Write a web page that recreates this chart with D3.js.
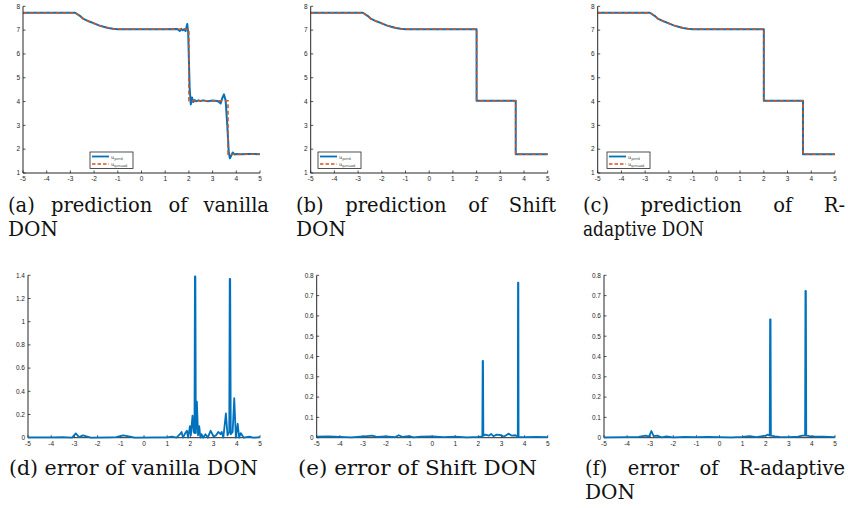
<!DOCTYPE html>
<html><head><meta charset="utf-8">
<script src="https://cdn.jsdelivr.net/npm/d3@7"></script>
<style>html,body{margin:0;padding:0;background:#fff;}svg{display:block;}
.cap{font-family:"DejaVu Serif",serif;}</style>
</head><body>
<svg id="chart" width="848" height="508"></svg>
<script>
// ---------- DATA ----------
const xTicks = [-5,-4,-3,-2,-1,0,1,2,3,4,5];
const xTickLabels = ["-5","-4","-3","-2","-1","0","1","2","3","4","5"];
const yTicksTop = [1,2,3,4,5,6,7,8];
const yTickLabelsTop = ["1","2","3","4","5","6","7","8"];
const yTicksErrVanilla = [0,0.2,0.4,0.6,0.8,1,1.2,1.4];
const yTickLabelsErrVanilla = ["0","0.2","0.4","0.6","0.8","1","1.2","1.4"];
const yTicksErrSmall = [0,0.1,0.2,0.3,0.4,0.5,0.6,0.7,0.8];
const yTickLabelsErrSmall = ["0","0.1","0.2","0.3","0.4","0.5","0.6","0.7","0.8"];

// ground truth (vertices of the exact solution)
const groundX = [-5,-2.8,-2.6,-2.45,-2.2,-2.0,-1.8,-1.6,-1.4,-1.2,-1.0,2.0,2.0,3.65,3.65,5];
const groundY = [7.73,7.73,7.6,7.47,7.36,7.28,7.2,7.14,7.09,7.06,7.04,7.04,4.03,4.03,1.79,1.79];

// vanilla DON prediction
const predVanillaX = [-5,-2.8,-2.6,-2.45,-2.2,-2.0,-1.8,-1.6,-1.4,-1.2,-1.0,1.0,1.5,1.55,1.62,1.68,1.74,1.8,1.86,1.93,1.97,2.03,2.08,2.13,2.18,2.24,2.3,2.4,2.5,2.6,2.8,3.0,3.2,3.28,3.34,3.41,3.48,3.55,3.62,3.68,3.73,3.8,3.85,3.92,4.0,4.2,4.5,5];
const predVanillaY = [7.73,7.73,7.6,7.47,7.36,7.28,7.2,7.14,7.09,7.06,7.04,7.04,7.05,7.02,6.97,7.05,6.99,7.04,6.96,7.26,6.9,4.6,3.88,4.17,3.98,4.06,4.01,4.05,4.02,4.05,4.01,4.04,4.02,3.98,3.92,4.15,4.3,4.05,3.0,1.9,1.62,1.75,1.86,1.78,1.8,1.79,1.8,1.79];

// Shift DON & R-adaptive DON predictions (coincide with ground truth at this scale)
const predShiftX = groundX.slice();
const predShiftY = groundY.slice();
const predRadX = groundX.slice();
const predRadY = groundY.slice();

// absolute errors
const errVanillaX = [-5,-4,-3.5,-3.1,-2.94,-2.8,-2.63,-2.45,-2.3,-1.5,-1.2,-0.9,-0.6,-0.4,0.5,1.0,1.2,1.4,1.55,1.62,1.68,1.78,1.85,1.9,1.98,2.02,2.09,2.14,2.175,2.195,2.215,2.235,2.28,2.33,2.38,2.43,2.48,2.55,2.65,2.75,2.87,3.0,3.1,3.2,3.3,3.35,3.42,3.53,3.6,3.675,3.695,3.715,3.74,3.82,3.89,3.96,4.04,4.1,4.17,4.3,4.54,4.7,5];
const errVanillaY = [0.002,0.003,0.005,0.0,0.037,0.005,0.02,0.01,0.0,0.003,0.005,0.02,0.01,0.0,0.002,0.003,0.01,0.0,0.03,0.05,0.0,0.04,0.06,0.0,0.1,0.02,0.19,0.05,0.04,1.39,1.39,0.04,0.31,0.02,0.1,0.0,0.03,0.0,0.03,0.0,0.06,0.01,0.02,0.05,0.03,0.05,0.0,0.21,0.02,0.05,1.37,1.37,0.03,0.05,0.34,0.0,0.12,0.0,0.04,0.0,0.01,0.0,0.005];

const errShiftX = [-5,-4.5,-4,-3.5,-3,-2.8,-2.6,-2.4,-2,-1.6,-1.45,-1.3,-1,-0.8,-0.5,0,0.5,1,1.5,2.0,2.17,2.185,2.2,2.215,2.3,2.45,2.55,2.65,2.8,3.0,3.1,3.3,3.45,3.6,3.705,3.715,3.73,3.74,4,4.5,5];
const errShiftY = [0.005,0.006,0.004,0.002,0.006,0.008,0.01,0.004,0.006,0.003,0.012,0.004,0.008,0.002,0.005,0.006,0.003,0.005,0.002,0.004,0.006,0.378,0.378,0.01,0.015,0.01,0.018,0.008,0.015,0.012,0.005,0.02,0.01,0.012,0.005,0.764,0.764,0.004,0.003,0.004,0.003];

const errRadX = [-5,-4,-3.5,-3.2,-3.05,-2.95,-2.85,-2.7,-2.5,-2.3,-2,-1.5,-1,-0.5,0,0.5,1.0,1.3,1.6,2.0,2.1,2.175,2.19,2.21,2.225,2.4,2.6,3.0,3.4,3.6,3.705,3.72,3.74,3.755,3.9,4.1,4.5,5];
const errRadY = [0.002,0.003,0.004,0.01,0.005,0.033,0.008,0.01,0.002,0.006,0.002,0.004,0.003,0.004,0.003,0.002,0.004,0.008,0.003,0.01,0.015,0.01,0.583,0.583,0.01,0.006,0.004,0.003,0.005,0.01,0.01,0.723,0.723,0.01,0.008,0.006,0.005,0.003];

// ---------- DRAWING ----------
const svg = d3.select("#chart");
const BLUE = "#0072BD", ORANGE = "#D95319", AXIS = "#262626";
const zip = (xs, ys) => xs.map((x, i) => [x, ys[i]]);

function drawAxes(g, x, y, yTicks, yLabels) {
  const [x0, x1] = x.range(), [y0, y1] = y.range();
  const ax = g.append("g");
  ax.append("line").attr("x1", x0).attr("x2", x0).attr("y1", y0).attr("y2", y1)
    .attr("stroke", AXIS).attr("stroke-width", 1);
  ax.append("line").attr("x1", x0).attr("x2", x1).attr("y1", y0).attr("y2", y0)
    .attr("stroke", AXIS).attr("stroke-width", 1);
  xTicks.forEach((t, i) => {
    ax.append("line").attr("x1", x(t)).attr("x2", x(t)).attr("y1", y0).attr("y2", y0 - 2.5)
      .attr("stroke", AXIS).attr("stroke-width", 0.8);
    ax.append("text").attr("x", x(t)).attr("y", y0 + 8).attr("text-anchor", "middle")
      .attr("font-family", "Liberation Sans, Arial, sans-serif").attr("font-size", 6.5)
      .attr("fill", AXIS).text(xTickLabels[i]);
  });
  yTicks.forEach((t, i) => {
    ax.append("line").attr("x1", x0).attr("x2", x0 + 2.5).attr("y1", y(t)).attr("y2", y(t))
      .attr("stroke", AXIS).attr("stroke-width", 0.8);
    ax.append("text").attr("x", x0 - 3).attr("y", y(t) + 2.3).attr("text-anchor", "end")
      .attr("font-family", "Liberation Sans, Arial, sans-serif").attr("font-size", 6.5)
      .attr("fill", AXIS).text(yLabels[i]);
  });
}

function predPanel(left, right, top, bottom, pX, pY, legX) {
  const x = d3.scaleLinear().domain([-5, 5]).range([left, right]);
  const y = d3.scaleLinear().domain([1, 8]).range([bottom, top]);
  const g = svg.append("g");
  const line = d3.line().x(d => x(d[0])).y(d => y(d[1]));
  g.append("path").attr("d", line(zip(pX, pY))).attr("fill", "none")
    .attr("stroke", BLUE).attr("stroke-width", 2).attr("stroke-linejoin", "round");
  g.append("path").attr("d", line(zip(groundX, groundY))).attr("fill", "none")
    .attr("stroke", ORANGE).attr("stroke-width", 1.5).attr("stroke-dasharray", "4,2.6");
  drawAxes(g, x, y, yTicksTop, yTickLabelsTop);
  // legend
  const lg = g.append("g").attr("transform", `translate(${legX},152)`);
  lg.append("rect").attr("width", 43).attr("height", 16.5).attr("fill", "#fff")
    .attr("stroke", AXIS).attr("stroke-width", 0.8);
  lg.append("line").attr("x1", 2).attr("x2", 19).attr("y1", 4.5).attr("y2", 4.5)
    .attr("stroke", BLUE).attr("stroke-width", 1.8);
  lg.append("line").attr("x1", 2).attr("x2", 19).attr("y1", 12).attr("y2", 12)
    .attr("stroke", ORANGE).attr("stroke-width", 1.5).attr("stroke-dasharray", "3.5,2");
  const items = [["u", "pred", 6.5], ["u", "ground", 14]];
  items.forEach(([b, s, yy]) => {
    const t = lg.append("text").attr("x", 21).attr("y", yy).attr("class", "cap")
      .attr("font-size", 5).attr("fill", "#333");
    t.append("tspan").text(b);
    t.append("tspan").attr("font-size", 3.6).attr("dy", 1).text(s);
  });
}

function errPanel(left, right, top, bottom, ymax, eX, eY, yT, yL) {
  const x = d3.scaleLinear().domain([-5, 5]).range([left, right]);
  const y = d3.scaleLinear().domain([0, ymax]).range([bottom, top]);
  const g = svg.append("g");
  const line = d3.line().x(d => x(d[0])).y(d => y(d[1]));
  drawAxes(g, x, y, yT, yL);
  g.append("path").attr("d", line(zip(eX, eY))).attr("fill", "none")
    .attr("stroke", BLUE).attr("stroke-width", 1.8).attr("stroke-linejoin", "round");
}

predPanel(23, 260, 6.3, 173, predVanillaX, predVanillaY, 90);
predPanel(310.7, 547.7, 6.3, 173, predShiftX, predShiftY, 318);
predPanel(597.7, 835, 6.3, 173, predRadX, predRadY, 607);

errPanel(28, 260, 275.3, 437.7, 1.4, errVanillaX, errVanillaY, yTicksErrVanilla, yTickLabelsErrVanilla);
errPanel(316.7, 547.7, 275.3, 437.7, 0.8, errShiftX, errShiftY, yTicksErrSmall, yTickLabelsErrSmall);
errPanel(604, 835, 275.3, 437.7, 0.8, errRadX, errRadY, yTicksErrSmall, yTickLabelsErrSmall);

// ---------- CAPTIONS ----------
const CAPSIZE = 19.5;
const STRETCH = 1.0;
function capText(x, y, str) {
  return svg.append("text").attr("class", "cap").attr("x", x).attr("y", y)
    .attr("font-size", CAPSIZE).attr("fill", "#111").text(str);
}
function justified(x0, x1, y, words) {
  const nodes = words.map(w => capText(0, y, w));
  const widths = nodes.map(n => n.node().getComputedTextLength() * STRETCH);
  nodes.forEach((n, i) => n.attr("textLength", widths[i]).attr("lengthAdjust", "spacingAndGlyphs"));
  const total = widths.reduce((a, b) => a + b, 0);
  const gap = (x1 - x0 - total) / (words.length - 1);
  let cx = x0;
  nodes.forEach((n, i) => { n.attr("x", cx); cx += widths[i] + gap; });
}
function natural(x0, x1, y, str) {
  capText(x0, y, str).attr("textLength", x1 - x0).attr("lengthAdjust", "spacingAndGlyphs");
}
justified(8, 269, 212, ["(a)", "prediction", "of", "vanilla"]);
natural(8, 58, 235.5, "DON");
justified(296, 556, 212, ["(b)", "prediction", "of", "Shift"]);
natural(296, 346, 235.5, "DON");
justified(583, 845, 212, ["(c)", "prediction", "of", "R-"]);
natural(583, 704, 235.5, "adaptive DON");
natural(9, 258, 475, "(d) error of vanilla DON");
natural(298, 537, 475, "(e) error of Shift DON");
justified(585, 845, 475, ["(f)", "error", "of", "R-adaptive"]);
natural(585, 635, 498.5, "DON");
</script>
</body></html>
